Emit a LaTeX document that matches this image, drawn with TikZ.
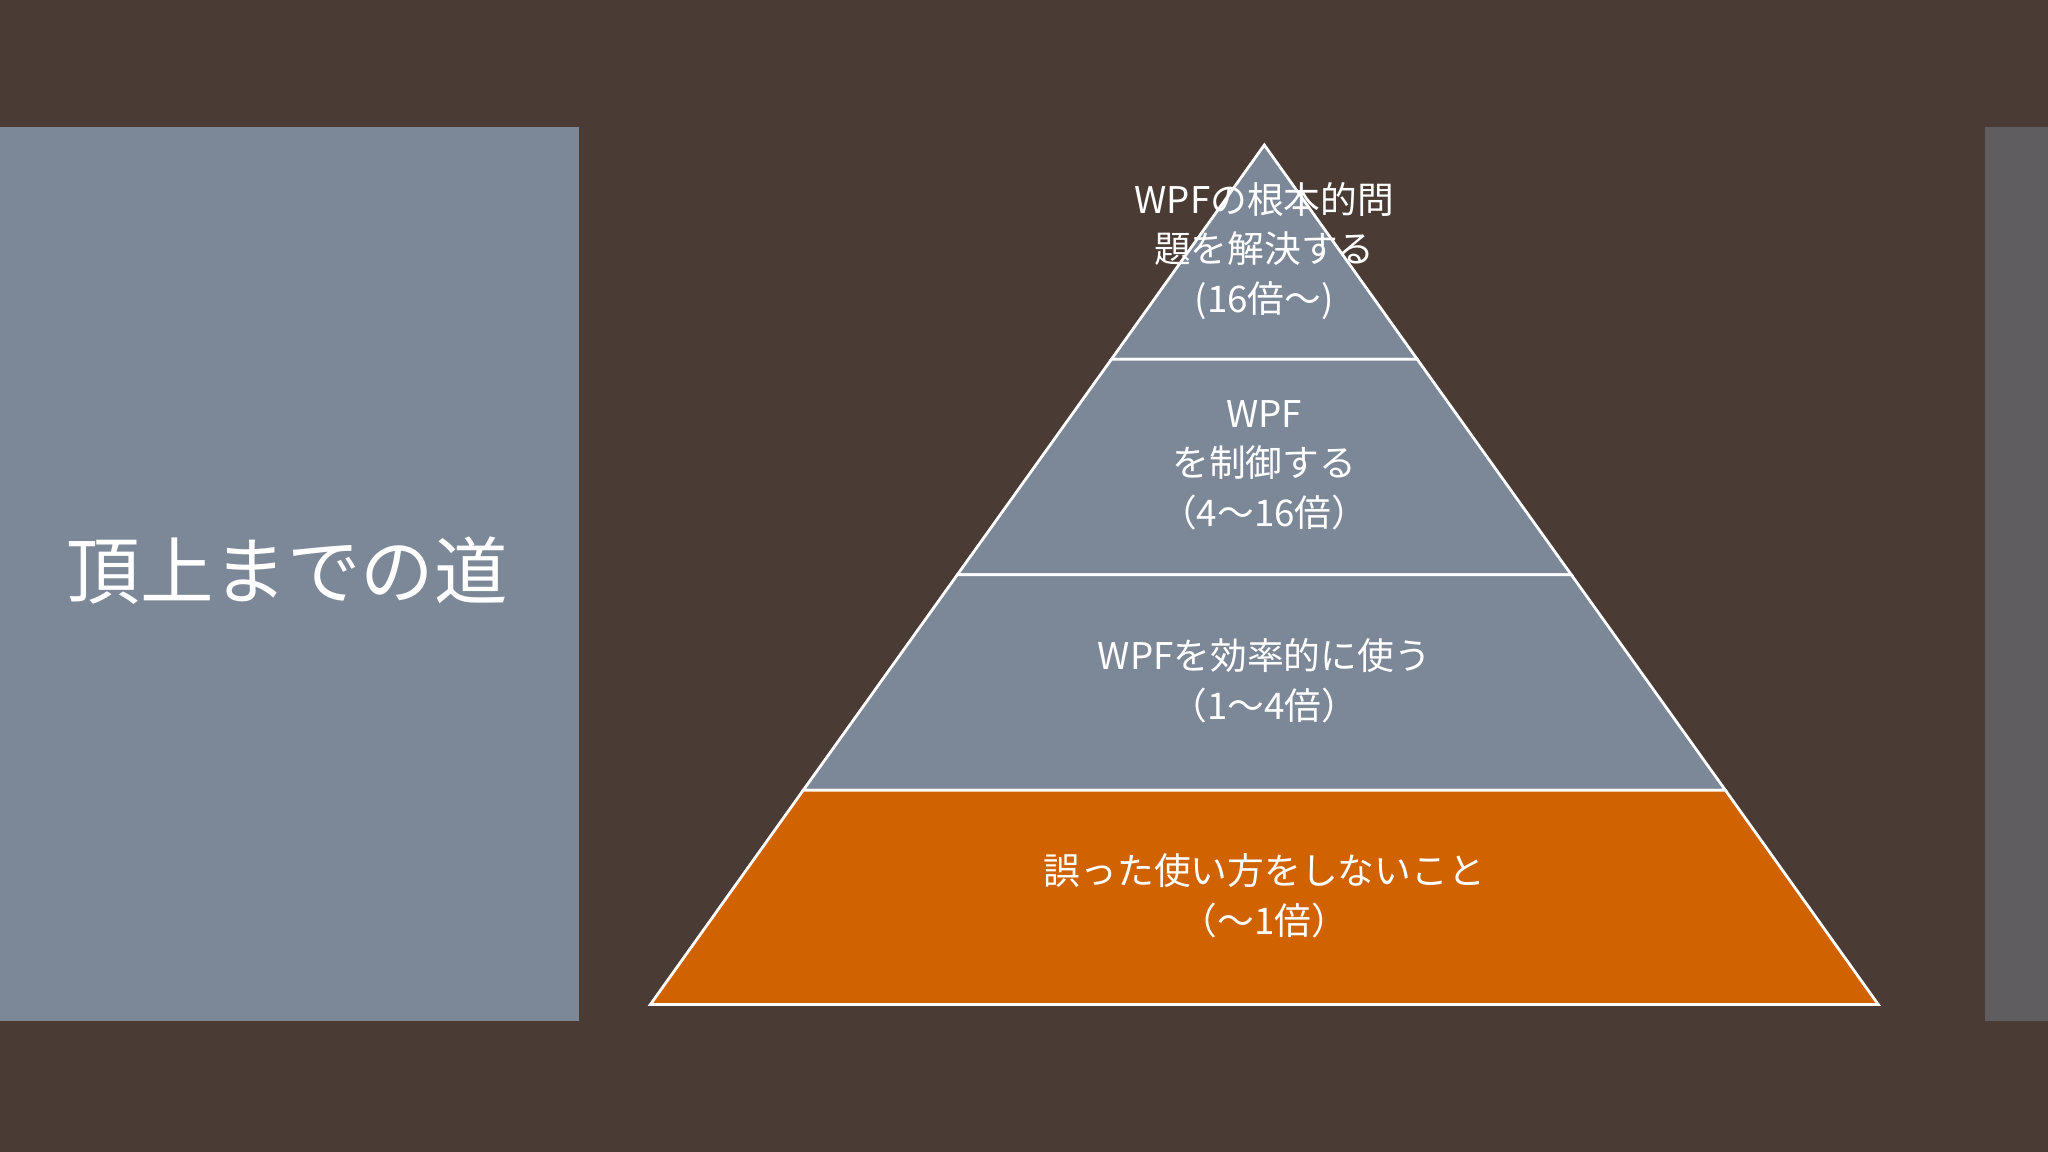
\documentclass[tikz,border=0pt]{standalone}
\usepackage{fontspec}
\setmainfont{Noto Sans CJK JP}
\definecolor{bg}{HTML}{4A3C35}
\definecolor{panel}{HTML}{7C8898}
\definecolor{rpanel}{HTML}{5F5D60}
\definecolor{orng}{HTML}{D06200}
\begin{document}
\begin{tikzpicture}[x=0.01cm,y=-0.01cm,
  lbl/.style={text=white,align=center,font=\fontsize{8}{10.8}\selectfont}]
\fill[bg] (0,0) rectangle (1568,882);
\useasboundingbox (0,0) rectangle (1568,882);
\fill[panel] (0,97) rectangle (443,782);
\fill[rpanel] (1520,97) rectangle (1568,782);
\node[text=white,font=\fontsize{16}{18}\selectfont] (title) at (220,437) {頂上までの道};
\coordinate (A) at (968,111);
\coordinate (L1) at (851,275); \coordinate (R1) at (1085,275);
\coordinate (L2) at (733,440); \coordinate (R2) at (1203,440);
\coordinate (L3) at (615,605); \coordinate (R3) at (1321,605);
\coordinate (L4) at (498,769); \coordinate (R4) at (1438,769);
\filldraw[fill=panel,draw=white,line width=0.6pt] (A) -- (R1) -- (L1) -- cycle;
\filldraw[fill=panel,draw=white,line width=0.6pt] (L1) -- (R1) -- (R2) -- (L2) -- cycle;
\filldraw[fill=panel,draw=white,line width=0.6pt] (L2) -- (R2) -- (R3) -- (L3) -- cycle;
\filldraw[fill=orng,draw=white,line width=0.6pt] (L3) -- (R3) -- (R4) -- (L4) -- cycle;
\node[lbl] (t1) at (968,192) {WPFの根本的問\\題を解決する\\(16倍～)};
\node[lbl] (t2) at (968,356) {WPF\\を制御する\\（4～16倍）};
\node[lbl] (t3) at (968,521) {WPFを効率的に使う\\（1～4倍）};
\node[lbl] (t4) at (968,686) {誤った使い方をしないこと\\（～1倍）};
\end{tikzpicture}
\end{document}
